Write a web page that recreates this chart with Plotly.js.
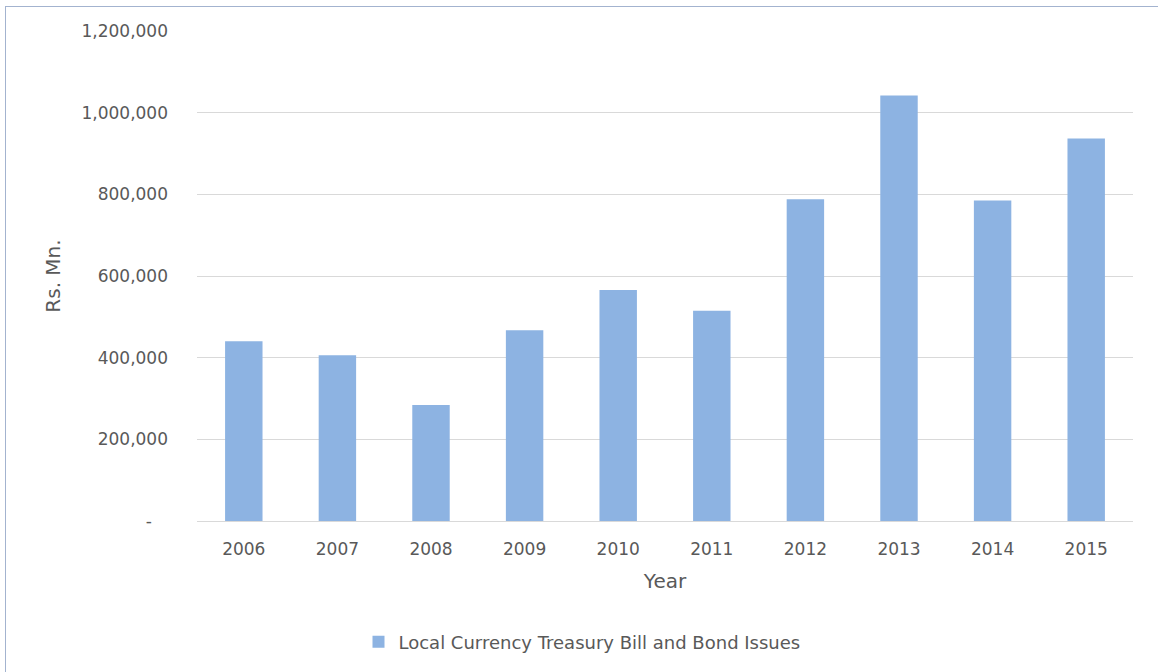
<!DOCTYPE html>
<html>
<head>
<meta charset="utf-8">
<script src="https://cdn.plot.ly/plotly-3.0.1.min.js"></script>
<style>
  html, body { margin: 0; padding: 0; background: #fff; overflow: hidden; }
  #chart { width: 1158px; height: 672px; position: absolute; left: 0; top: 0; }
  #frame { position: absolute; left: 5px; top: 6px; width: 1200px; height: 700px;
           border-left: 1px solid #a3b3cf; border-top: 1px solid #a3b3cf; pointer-events: none; }
</style>
</head>
<body>
<div id="chart"></div>
<div id="frame"></div>
<script>
const years = ['2006','2007','2008','2009','2010','2011','2012','2013','2014','2015'];
const issues = [440000, 406000, 284000, 467000, 566000, 515000, 788000, 1042000, 785000, 937000];
const yTickVals = [0, 200000, 400000, 600000, 800000, 1000000, 1200000];
const yTickText = ['-\u00a0\u00a0\u00a0', '200,000', '400,000', '600,000', '800,000', '1,000,000', '1,200,000'];
const seriesName = 'Local Currency Treasury Bill and Bond Issues';

const font = 'DejaVu Sans, sans-serif';
const grey = '#595959';

Plotly.newPlot('chart', [{
  type: 'bar',
  x: years,
  y: issues,
  name: seriesName,
  marker: { color: '#8db3e2' },
  showlegend: true,
  hoverinfo: 'x+y'
}], {
  width: 1158,
  height: 672,
  margin: { l: 197, r: 25, t: 31, b: 150.5 },
  paper_bgcolor: '#ffffff',
  plot_bgcolor: '#ffffff',
  bargap: 0.6,
  font: { family: font, color: grey, size: 17 },
  xaxis: {
    type: 'category',
    showgrid: false,
    showline: true,
    linecolor: '#d9d9d9',
    linewidth: 1,
    ticks: '',
    ticklabelstandoff: 13,
    tickfont: { family: font, size: 17, color: grey },
    title: { text: 'Year', font: { family: font, size: 20, color: grey }, standoff: 15 }
  },
  yaxis: {
    range: [0, 1200000],
    tickvals: yTickVals,
    ticktext: yTickText,
    showgrid: true,
    gridcolor: '#d9d9d9',
    gridwidth: 1,
    zeroline: false,
    showline: false,
    ticks: '',
    ticklabelstandoff: 28,
    tickfont: { family: font, size: 17, color: grey },
    title: { text: 'Rs. Mn.', font: { family: font, size: 20, color: grey }, standoff: 15 }
  },
  showlegend: true,
  legend: {
    orientation: 'h',
    xref: 'container', yref: 'container',
    x: 582 / 1158, xanchor: 'center',
    y: 1 - 642 / 672, yanchor: 'middle',
    font: { family: font, size: 18, color: grey },
    itemwidth: 30
  }
}, { displayModeBar: false, staticPlot: true });
</script>
</body>
</html>
